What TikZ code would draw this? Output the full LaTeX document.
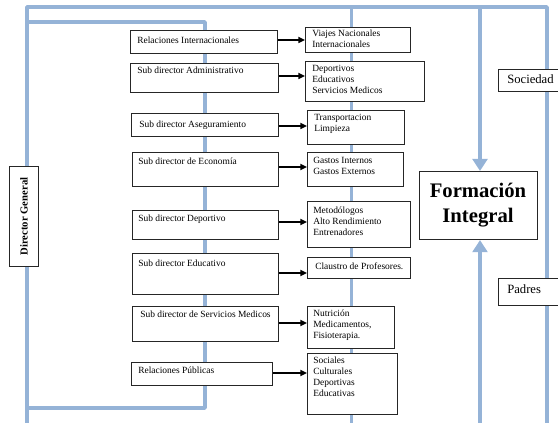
\documentclass[tikz,border=0pt]{standalone}
\usepackage{fontspec}
\setmainfont{Liberation Serif}
\usetikzlibrary{arrows.meta}
\definecolor{frameblue}{HTML}{95B3D7}
\begin{document}
\begin{tikzpicture}[x=0.75pt,y=-0.75pt,
  bl/.style={draw=frameblue, line width=2.6pt, line join=round},
  box/.style={draw=black!85, line width=0.8pt, fill=white, inner sep=0pt, anchor=north west},
  sz/.style 2 args={minimum width={#1*0.75pt}, minimum height={#2*0.75pt}},
  ltxt/.style={font=\fontsize{7.1}{8}\selectfont, inner sep=0pt, anchor=base west},
  rtxt/.style={font=\fontsize{7.1}{8.25}\selectfont, inner sep=0pt, anchor=north west, align=left},
  arr/.style={draw=black, line width=1.2pt, -{Triangle[length=5pt,width=4.5pt]}},
  barr/.style={draw=frameblue, line width=3.7pt, -{Triangle[length=9pt,width=11pt]}}
]
\useasboundingbox (0,0) rectangle (558,423);
\clip (0,0) rectangle (558,423);

% blue frame lines
\draw[bl] (27,423) -- (27,7) -- (547,7) -- (547,423);
\draw[bl] (27,22) -- (205,22) -- (205,408) -- (27,408);
\draw[bl, line width=2.25pt] (351,7) -- (351,423);

% Director General
\node[box, sz={29}{100}] (dg) at (9,166) {};
\node[font=\fontsize{8}{9}\selectfont\bfseries, rotate=90, inner sep=0pt] (dgt) at (dg.center) {Director General};

% left boxes
\node[box, sz={147}{23}] (L1) at (130,30) {};
\node[box, sz={148}{29}] (L2) at (130,63) {};
\node[box, sz={147}{23}] (L3) at (131,113) {};
\node[box, sz={146}{34}] (L4) at (132,152) {};
\node[box, sz={146}{29}] (L5) at (132,210) {};
\node[box, sz={146}{41}] (L6) at (132,253) {};
\node[box, sz={146}{35}] (L7) at (132,306) {};
\node[box, sz={141}{23}] (L8) at (131,362) {};

\node[ltxt] (L1t) at (137,43.5) {Relaciones Internacionales};
\node[ltxt] (L2t) at (137,74) {Sub director Administrativo};
\node[ltxt] (L3t) at (139,127.5) {Sub director Aseguramiento};
\node[ltxt] (L4t) at (138,164.5) {Sub director de Economía};
\node[ltxt] (L5t) at (138,221.5) {Sub director Deportivo};
\node[ltxt] (L6t) at (138,266.5) {Sub director Educativo};
\node[ltxt] (L7t) at (140,317.5) {Sub director de Servicios Medicos};
\node[ltxt] (L8t) at (138,373.5) {Relaciones Públicas};

% right boxes
\node[box, sz={105}{25}] (R1) at (305,27) {};
\node[box, sz={119}{40}] (R2) at (305,61) {};
\node[box, sz={97}{34}] (R3) at (307,110) {};
\node[box, sz={96}{34}] (R4) at (307,152) {};
\node[box, sz={103}{46}] (R5) at (307,201) {};
\node[box, sz={103}{21}] (R6) at (307,257) {};
\node[box, sz={87}{42}] (R7) at (307,306) {};
\node[box, sz={90}{61}] (R8) at (307,353) {};

\node[rtxt] (R1t) at (312,30) {Viajes Nacionales\\Internacionales};
\node[rtxt] (R2t) at (312,65) {Deportivos\\Educativos\\Servicios Medicos};
\node[rtxt] (R3t) at (314,114) {Transportacion\\Limpieza};
\node[rtxt] (R4t) at (313,157) {Gastos Internos\\Gastos Externos};
\node[rtxt] (R5t) at (313,207) {Metodólogos\\Alto Rendimiento\\Entrenadores};
\node[rtxt] (R6t) at (315,263) {Claustro de Profesores.};
\node[rtxt] (R7t) at (313,310) {Nutrición\\Medicamentos,\\Fisioterapia.};
\node[rtxt] (R8t) at (313,357) {Sociales\\Culturales\\Deportivas\\Educativas};

% arrows
\draw[arr] (L1.east |- 0,40) -- (R1.west |- 0,40);
\draw[arr] (L2.east |- 0,76) -- (R2.west |- 0,76);
\draw[arr] (L3.east |- 0,126) -- (R3.west |- 0,126);
\draw[arr] (L4.east |- 0,167) -- (R4.west |- 0,167);
\draw[arr] (L5.east |- 0,222) -- (R5.west |- 0,222);
\draw[arr] (L6.east |- 0,273) -- (R6.west |- 0,273);
\draw[arr] (L7.east |- 0,323) -- (R7.west |- 0,323);
\draw[arr] (L8.east |- 0,373) -- (R8.west |- 0,373);

% Sociedad / Padres
\node[box, sz={70}{22}] (soc) at (498,69) {};
\node[font=\fontsize{9.5}{11}\selectfont, inner sep=0pt, anchor=base west] (soct) at (507,83.5) {Sociedad};
\node[box, sz={70}{27}] (pad) at (498,278) {};
\node[font=\fontsize{9.5}{11}\selectfont, inner sep=0pt, anchor=base west] (padt) at (507,293.5) {Padres};

% Formacion Integral
\node[box, sz={118}{68}] (F) at (419,171) {};
\node[font=\fontsize{15.5}{19}\selectfont\bfseries, align=center, inner sep=0pt] (Ft) at (478,205) {Formación\\Integral};
\coordinate (ftop) at (480,7);
\coordinate (fbot) at (480,423);
\draw[barr] (ftop) -- (ftop |- F.north);
\draw[barr] (fbot) -- (fbot |- F.south);
\end{tikzpicture}
\end{document}
